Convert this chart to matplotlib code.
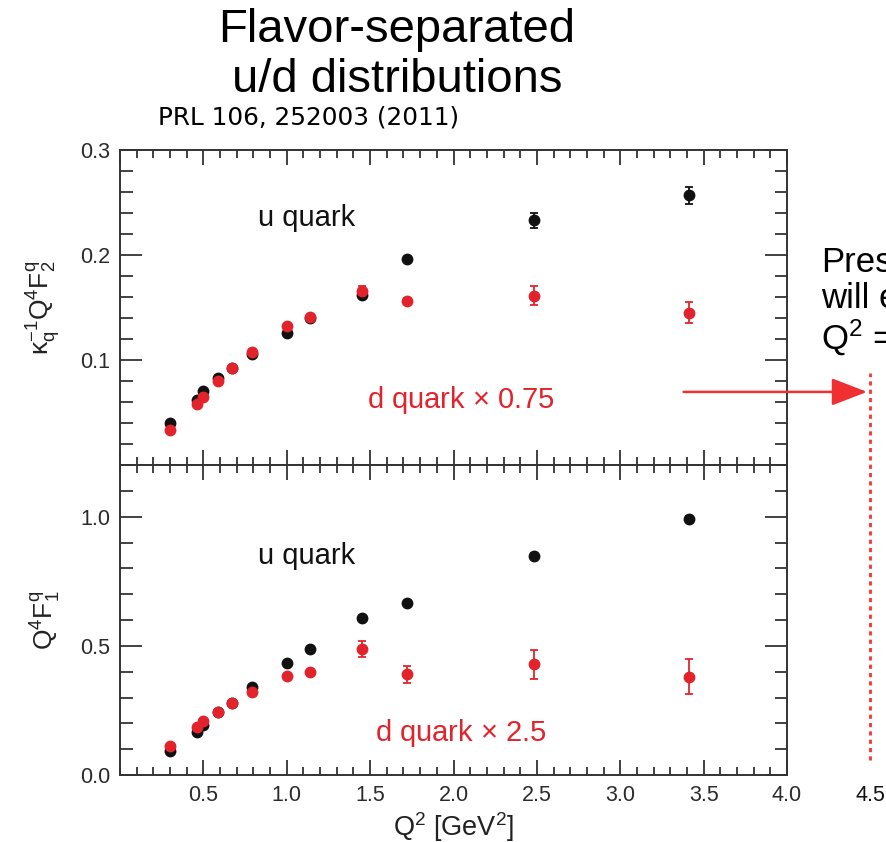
import numpy as np
import matplotlib
matplotlib.use("Agg")
import matplotlib.pyplot as plt
from matplotlib.ticker import MultipleLocator, FixedLocator
from matplotlib.transforms import blended_transform_factory

plt.rcParams['font.family'] = ['Liberation Sans', 'DejaVu Sans']
plt.rcParams['mathtext.fontset'] = 'custom'
plt.rcParams['mathtext.rm'] = 'Liberation Sans'
plt.rcParams['mathtext.it'] = 'Liberation Sans:italic'
plt.rcParams['mathtext.bf'] = 'Liberation Sans:bold'

# Q^2 values (GeV^2)
q2 = [0.30, 0.46, 0.50, 0.59, 0.67, 0.79, 1.00, 1.14, 1.45, 1.72, 2.48, 3.41]

# kappa^-1 Q^4 F2 (top panel)
f2_u = [0.040, 0.062, 0.070, 0.083, 0.092, 0.106, 0.126, 0.140, 0.162, 0.196, 0.233, 0.257]
f2_u_err = [0.002, 0.002, 0.002, 0.002, 0.002, 0.002, 0.002, 0.002, 0.002, 0.002, 0.007, 0.008]
f2_d = [0.033, 0.058, 0.065, 0.080, 0.092, 0.108, 0.132, 0.141, 0.166, 0.156, 0.161, 0.145]
f2_d_err = [0.002, 0.002, 0.002, 0.002, 0.002, 0.002, 0.002, 0.002, 0.004, 0.003, 0.009, 0.010]

# Q^4 F1 (bottom panel)
f1_u = [0.094, 0.168, 0.194, 0.243, 0.280, 0.339, 0.435, 0.487, 0.609, 0.667, 0.849, 0.991]
f1_u_err = [0.005, 0.005, 0.005, 0.005, 0.005, 0.005, 0.005, 0.005, 0.008, 0.008, 0.010, 0.012]
f1_d = [0.112, 0.187, 0.210, 0.245, 0.280, 0.320, 0.383, 0.398, 0.487, 0.390, 0.428, 0.381]
f1_d_err = [0.008, 0.008, 0.008, 0.008, 0.008, 0.008, 0.008, 0.008, 0.032, 0.032, 0.055, 0.068]

BLACK = '#111111'
RED = '#e3232b'
AXC = '#333333'
TICK_FS = 15.5
NOTE_FS = 21

fig = plt.figure(figsize=(8.87, 8.42), dpi=100)
ax1 = fig.add_axes([120 / 887, 1 - 465 / 842, 667 / 887, 315 / 842])
ax2 = fig.add_axes([120 / 887, 1 - 775 / 842, 667 / 887, 310 / 842])

for ax in (ax1, ax2):
    for sp in ax.spines.values():
        sp.set_color(AXC)
        sp.set_linewidth(1.4)
    ax.set_xlim(0, 4.0)
    ax.xaxis.set_major_locator(MultipleLocator(0.5))
    ax.xaxis.set_minor_locator(MultipleLocator(0.1))
    ax.tick_params(which='both', direction='in', top=True, right=True,
                   color=AXC, width=1.3, labelcolor='#2a2a2a', labelsize=TICK_FS)
    ax.tick_params(axis='x', which='major', length=11, pad=7)
    ax.tick_params(axis='x', which='minor', length=6)
    ax.tick_params(axis='y', which='major', length=16, pad=7)
    ax.tick_params(axis='y', which='minor', length=9)

# top panel
ax1.errorbar(q2, f2_u, yerr=f2_u_err, fmt='o', color=BLACK, ms=7.5,
             elinewidth=1.3, capsize=3, capthick=1.3, zorder=3)
ax1.errorbar(q2, f2_d, yerr=f2_d_err, fmt='o', color=RED, ms=7.5,
             elinewidth=1.3, capsize=3, capthick=1.3, zorder=4)
ax1.set_ylim(0, 0.3)
ax1.yaxis.set_major_locator(FixedLocator([0.1, 0.2, 0.3]))
ax1.yaxis.set_minor_locator(MultipleLocator(0.02))
ax1.set_yticklabels(['0.1', '0.2', '0.3'])
ax1.tick_params(axis='x', labelbottom=False)
ax1.set_ylabel(r'κ$_\mathrm{q}^{-1}$Q$^4$F$_2^\mathrm{q}$', fontsize=19, color='#222222')
ax1.yaxis.set_label_coords(-0.085, 0.5)
ax1.text(0.83, 0.235, 'u quark', fontsize=NOTE_FS, color=BLACK, va='center')
ax1.text(1.48, 0.062, r'd quark $\times$ 0.75', fontsize=NOTE_FS, color=RED, va='center')

# bottom panel
ax2.errorbar(q2, f1_u, yerr=f1_u_err, fmt='o', color=BLACK, ms=7.5,
             elinewidth=1.3, capsize=3, capthick=1.3, zorder=3)
ax2.errorbar(q2, f1_d, yerr=f1_d_err, fmt='o', color=RED, ms=7.5,
             elinewidth=1.3, capsize=3, capthick=1.3, zorder=4)
ax2.set_ylim(0, 1.2)
ax2.yaxis.set_major_locator(FixedLocator([0.0, 0.5, 1.0]))
ax2.yaxis.set_minor_locator(MultipleLocator(0.1))
ax2.set_yticklabels(['0.0', '0.5', '1.0'])
ax2.set_xticks([0.5, 1.0, 1.5, 2.0, 2.5, 3.0, 3.5, 4.0])
ax2.set_ylabel(r'Q$^4$F$_1^\mathrm{q}$', fontsize=19, color='#222222')
ax2.yaxis.set_label_coords(-0.085, 0.5)
ax2.set_xlabel(r'Q$^2$ [GeV$^2$]', fontsize=19.5, color='#222222', labelpad=3)
ax2.text(0.83, 0.848, 'u quark', fontsize=NOTE_FS, color=BLACK, va='center')
ax2.text(1.53, 0.163, r'd quark $\times$ 2.5', fontsize=NOTE_FS, color=RED, va='center')

# projected reach at Q^2 = 4.5
ax2.plot([4.5, 4.5], [0.06, 1.556], color='#ff3030', lw=2, ls=(0, (1.5, 1.5)),
         clip_on=False)
ax2.annotate('', xy=(4.48, 1.483), xytext=(3.38, 1.483),
             arrowprops=dict(arrowstyle='-|>,head_length=2.2,head_width=0.85',
                             color='#f03030', lw=1.8, shrinkA=0, shrinkB=0),
             annotation_clip=False)
trans = blended_transform_factory(ax2.transData, ax2.transAxes)
ax2.text(4.5, -0.033, '4.5', transform=trans, ha='center', va='top',
         fontsize=TICK_FS, color='#111111')

fig.text(397 / 887, 1 - 55 / 842, 'Flavor-separated\nu/d distributions',
         ha='center', va='center', fontsize=34, linespacing=1.2)
fig.text(158 / 887, 1 - 117 / 842, 'PRL 106, 252003 (2011)',
         family='DejaVu Sans', fontsize=17.8, ha='left', va='center')
fig.text(821 / 887, 1 - 302 / 842, 'Pres\nwill e\nQ$^2$ =', fontsize=25,
         ha='left', va='center', linespacing=1.1)

fig.savefig('out.png', dpi=100)
